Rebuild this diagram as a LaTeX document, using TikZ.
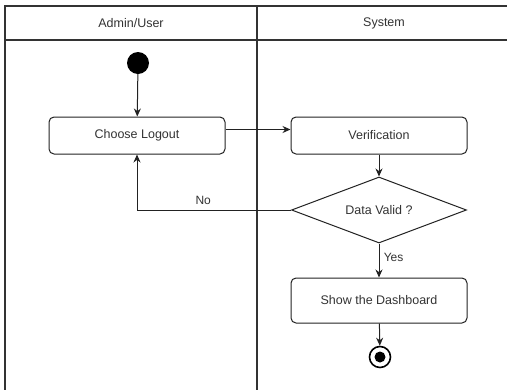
\documentclass[tikz,border=0pt]{standalone}
\usepackage{fontspec}
\setmainfont{Liberation Sans}
\usetikzlibrary{shapes.geometric,arrows.meta}
\definecolor{lane}{HTML}{333333}
\definecolor{ink}{HTML}{222222}
\definecolor{txt}{HTML}{333333}
\tikzset{
  actbox/.style={draw=ink, line width=1pt, rounded corners=5pt, minimum width=176pt, minimum height=37pt, inner sep=0pt, text=txt, font=\fontsize{12.5}{15}\selectfont},
  decision/.style={draw=ink, line width=1pt, diamond, aspect=2.65, minimum width=175pt, minimum height=66pt, inner sep=0pt, text=txt, font=\fontsize{12.5}{15}\selectfont},
  flow/.style={draw=ink, line width=1pt, -{Stealth[length=8pt,width=7pt]}},
  lanetitle/.style={text=txt, font=\fontsize{12.5}{15}\selectfont},
  flowlabel/.style={text=txt, font=\fontsize{12}{14}\selectfont},
}
\begin{document}
\begin{tikzpicture}[x=1pt, y=-1pt]
\useasboundingbox (0,0) rectangle (507,389);
\fill[white] (0,0) rectangle (507,389);
\begin{scope}
\clip (0,0) rectangle (507,389);
% swimlane frame
\draw[lane, line width=1.2pt] (5,400) -- (5,6) -- (520,6);
\draw[lane, line width=1.2pt] (5,40) -- (520,40);
\draw[lane, line width=1.2pt] (257,6) -- (257,400);
\end{scope}
\node[lanetitle] (laneA) at (131,23) {Admin/User};
\node[lanetitle] (laneB) at (384,23) {System};

% activity nodes
\node[circle, fill=black, minimum size=22pt, inner sep=0pt] (start) at (138,63) {};
\node[actbox] (logout) at (137,135.5) {Choose Logout};
\node[actbox] (verify) at (379,135.5) {Verification};
\node[decision] (valid) at (379,210) {Data Valid ?};
\node[actbox, minimum height=45pt] (dash) at (379,300.5) {Show the Dashboard};
\node[circle, draw=black, line width=1.6pt, minimum size=21pt, inner sep=0pt] (stop) at (380,357) {};
\node[circle, fill=black, minimum size=11pt, inner sep=0pt] (stopdot) at (stop) {};

% flows
\draw[flow] (start) -- (logout);
\draw[flow] ([yshift=6pt]logout.east) -- ([yshift=6pt]verify.west);
\draw[flow] (verify) -- (valid);
\draw[flow] (valid.west) -| node[flowlabel, pos=0.285, above=2pt] (nolabel) {No} (logout.south);
\draw[flow] (valid) -- node[flowlabel, right=1pt, pos=0.4] (yeslabel) {Yes} (dash);
\draw[flow] (dash) -- (stop);
\end{tikzpicture}
\end{document}
